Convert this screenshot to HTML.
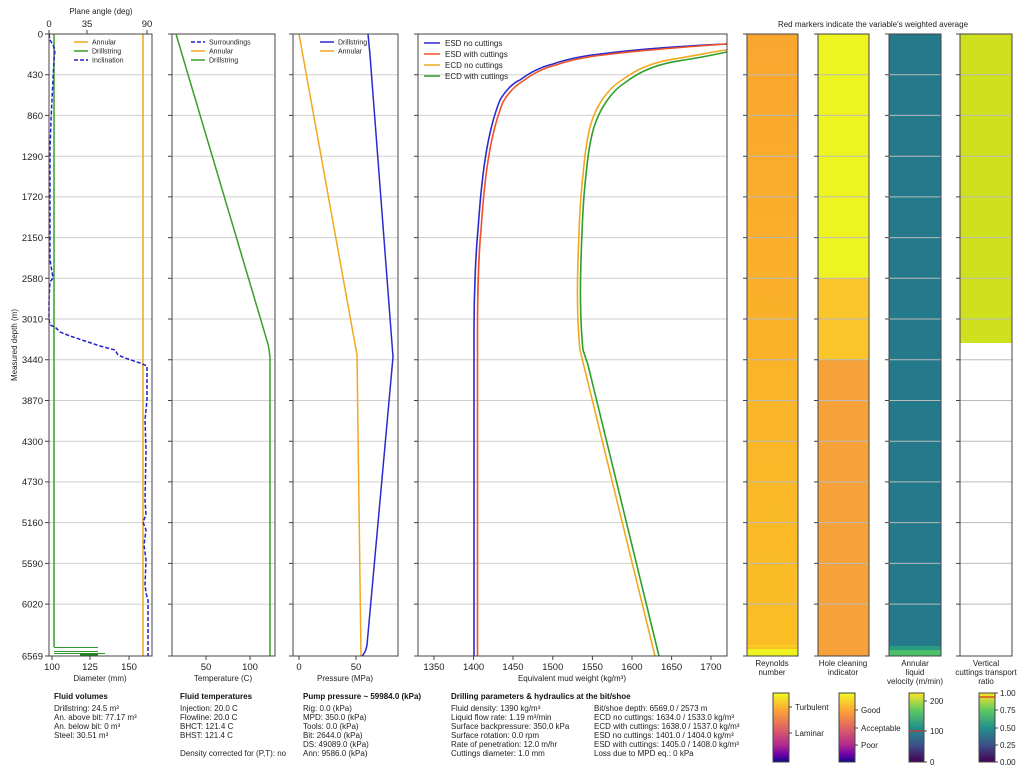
<!DOCTYPE html>
<html><head><meta charset="utf-8"><style>
html,body{margin:0;padding:0;background:#fff;}
svg{display:block;font-family:"Liberation Sans",sans-serif;}
.t{font-size:9.5px;fill:#222;}
.s{font-size:8px;fill:#222;}
.b{font-size:8px;font-weight:bold;fill:#111;}
</style></head><body>
<svg width="1024" height="768" viewBox="0 0 1024 768" xmlns="http://www.w3.org/2000/svg">
<defs>
<linearGradient id="re" x1="0" y1="0" x2="0" y2="1"><stop offset="0" stop-color="#f9a62e"/><stop offset="1" stop-color="#fbbf24"/></linearGradient>
<linearGradient id="plasma" x1="0" y1="0" x2="0" y2="1"><stop offset="0" stop-color="#f0f921"/><stop offset="0.25" stop-color="#fca636"/><stop offset="0.5" stop-color="#e16462"/><stop offset="0.75" stop-color="#b12a90"/><stop offset="0.9" stop-color="#6a00a8"/><stop offset="1" stop-color="#0d0887"/></linearGradient>
<linearGradient id="viridis" x1="0" y1="0" x2="0" y2="1"><stop offset="0" stop-color="#fde725"/><stop offset="0.25" stop-color="#5ec962"/><stop offset="0.5" stop-color="#21918c"/><stop offset="0.75" stop-color="#3b528b"/><stop offset="1" stop-color="#440154"/></linearGradient>
</defs>

<!-- gridlines -->
<g stroke="#cfcfcf" stroke-width="1">
<path d="M49 74.7H152M49 115.4H152M49 156.2H152M49 196.9H152M49 237.6H152M49 278.3H152M49 319H152M49 359.8H152M49 400.5H152M49 441.2H152M49 481.9H152M49 522.6H152M49 563.4H152M49 604.1H152"/>
<path d="M172 74.7H275M172 115.4H275M172 156.2H275M172 196.9H275M172 237.6H275M172 278.3H275M172 319H275M172 359.8H275M172 400.5H275M172 441.2H275M172 481.9H275M172 522.6H275M172 563.4H275M172 604.1H275"/>
<path d="M293 74.7H398M293 115.4H398M293 156.2H398M293 196.9H398M293 237.6H398M293 278.3H398M293 319H398M293 359.8H398M293 400.5H398M293 441.2H398M293 481.9H398M293 522.6H398M293 563.4H398M293 604.1H398"/>
<path d="M418 74.7H727M418 115.4H727M418 156.2H727M418 196.9H727M418 237.6H727M418 278.3H727M418 319H727M418 359.8H727M418 400.5H727M418 441.2H727M418 481.9H727M418 522.6H727M418 563.4H727M418 604.1H727"/>
</g>

<!-- heatmaps -->
<rect x="747" y="34" width="51" height="622" fill="url(#re)"/>
<rect x="747" y="649" width="51" height="7" fill="#eef21f"/>
<rect x="747" y="645" width="51" height="2" fill="#fcce25"/>
<rect x="818" y="34" width="51" height="244" fill="#edf420"/>
<rect x="818" y="278" width="51" height="82" fill="#fbc62b"/>
<rect x="818" y="360" width="51" height="296" fill="#f7a13a"/>
<rect x="889" y="34" width="52" height="622" fill="#24798a"/>
<rect x="889" y="646" width="52" height="4" fill="#2a9a82"/>
<rect x="889" y="650" width="52" height="6" fill="#4cbf6a"/>
<rect x="960" y="34" width="52" height="309" fill="#cfe01f"/>
<g stroke="#bbbbbb" stroke-width="1">
<path d="M747 74.7H798M747 115.4H798M747 156.2H798M747 196.9H798M747 237.6H798M747 278.3H798M747 319H798M747 359.8H798M747 400.5H798M747 441.2H798M747 481.9H798M747 522.6H798M747 563.4H798M747 604.1H798"/>
<path d="M818 74.7H869M818 115.4H869M818 156.2H869M818 196.9H869M818 237.6H869M818 278.3H869M818 319H869M818 359.8H869M818 400.5H869M818 441.2H869M818 481.9H869M818 522.6H869M818 563.4H869M818 604.1H869"/>
<path d="M889 74.7H941M889 115.4H941M889 156.2H941M889 196.9H941M889 237.6H941M889 278.3H941M889 319H941M889 359.8H941M889 400.5H941M889 441.2H941M889 481.9H941M889 522.6H941M889 563.4H941M889 604.1H941"/>
<path d="M960 74.7H1012M960 115.4H1012M960 156.2H1012M960 196.9H1012M960 237.6H1012M960 278.3H1012M960 319H1012M960 359.8H1012M960 400.5H1012M960 441.2H1012M960 481.9H1012M960 522.6H1012M960 563.4H1012M960 604.1H1012"/>
</g>

<!-- panel 1 -->
<g fill="none" stroke-width="1.5">
<path d="M143 34V656" stroke="#f0a91e"/>
<path d="M54 34V647" stroke="#3a9e2a"/>
<path d="M54 647.5H98M54 651.5H98M54 653.5H105" stroke="#2e9a2e" stroke-width="1"/>
<rect x="80" y="653" width="18" height="3" fill="#1f8a1f" stroke="none"/>
<path d="M49 34L50 40L53 45L55 50L54 60L53 80L52 100L51 120L50 150L50 200L50 260L53 278L50 282L49 300L49 319L50 325L55 327L60 332L70 336L85 341L100 346L115 350L118 355L125 358L140 363L147 366L147 400L145 420L146 450L145 500L146 515L143 522L146 530L144 545L146 560L145 585L146 593L148 600L148 656" stroke="#2222cc" stroke-dasharray="4,2"/>
</g>
<!-- panel 2 -->
<path d="M176 34L268 344Q270 354 270 360L270 656" fill="none" stroke="#3a9e2a" stroke-width="1.5"/>
<!-- panel 3 -->
<path d="M299 34L357 355L361 656" fill="none" stroke="#f0a91e" stroke-width="1.5"/>
<path d="M368 34L370 55L393 357L367 645Q366 652 362 656" fill="none" stroke="#2a2ad0" stroke-width="1.5"/>
<!-- panel 4 -->
<g fill="none" stroke-width="1.6">
<path d="M474 656L474 330C474 290 476 250 478 230C482 170 488 130 500 100C507 88 515 82 520 80C533 70 545 66 553 64C570 58 590 55 600 54C640 49 680 46 727 44" stroke="#2a2ad0"/>
<path d="M477.5 656L477.5 330C477.5 290 479 250 481 230C485 170 491 132 503 102C510 90 518 84 523 81C536 71 548 67 556 65C573 59 593 56 603 55C643 50 683 47 727 44" stroke="#f25022"/>
<path d="M655 656L580 350C577 320 577 290 578 260C579 230 580 200 583 175C587 130 592 115 602 100C610 88 617 83 622 80C630 74 636 71 640 69C655 62 668 60 680 58C700 55 715 51 727 50" stroke="#f0a91e"/>
<path d="M659 656L588 365L583 350C580 320 580 290 581 260C582 230 583 200 586 175C590 132 596 117 606 102C614 90 621 85 626 82C634 76 640 73 644 71C659 64 672 62 684 60C704 57 717 54 727 52" stroke="#2ca02c"/>
</g>

<!-- frames -->
<g fill="none" stroke="#444" stroke-width="1">
<rect x="49" y="34" width="103" height="622"/>
<rect x="172" y="34" width="103" height="622"/>
<rect x="293" y="34" width="105" height="622"/>
<rect x="418" y="34" width="309" height="622"/>
<rect x="747" y="34" width="51" height="622"/>
<rect x="818" y="34" width="51" height="622"/>
<rect x="889" y="34" width="52" height="622"/>
<rect x="960" y="34" width="52" height="622"/>
</g>
<!-- y ticks -->
<g stroke="#444">
<path d="M45 34H49M45 74.7H49M45 115.4H49M45 156.2H49M45 196.9H49M45 237.6H49M45 278.3H49M45 319H49M45 359.8H49M45 400.5H49M45 441.2H49M45 481.9H49M45 522.6H49M45 563.4H49M45 604.1H49M45 656H49"/>
<path d="M168 34H172M168 74.7H172M168 115.4H172M168 156.2H172M168 196.9H172M168 237.6H172M168 278.3H172M168 319H172M168 359.8H172M168 400.5H172M168 441.2H172M168 481.9H172M168 522.6H172M168 563.4H172M168 604.1H172M168 656H172"/>
<path d="M289 34H293M289 74.7H293M289 115.4H293M289 156.2H293M289 196.9H293M289 237.6H293M289 278.3H293M289 319H293M289 359.8H293M289 400.5H293M289 441.2H293M289 481.9H293M289 522.6H293M289 563.4H293M289 604.1H293M289 656H293"/>
<path d="M414 34H418M414 74.7H418M414 115.4H418M414 156.2H418M414 196.9H418M414 237.6H418M414 278.3H418M414 319H418M414 359.8H418M414 400.5H418M414 441.2H418M414 481.9H418M414 522.6H418M414 563.4H418M414 604.1H418M414 656H418"/>
<path d="M743 34H747M743 74.7H747M743 115.4H747M743 196.9H747M743 278.3H747M743 359.8H747M743 441.2H747M743 522.6H747M743 604.1H747M743 656H747M743 156.2H747M743 237.6H747M743 319H747M743 400.5H747M743 481.9H747M743 563.4H747"/>
<path d="M814 34H818M814 74.7H818M814 115.4H818M814 156.2H818M814 196.9H818M814 237.6H818M814 278.3H818M814 319H818M814 359.8H818M814 400.5H818M814 441.2H818M814 481.9H818M814 522.6H818M814 563.4H818M814 604.1H818M814 656H818"/>
<path d="M885 34H889M885 74.7H889M885 115.4H889M885 156.2H889M885 196.9H889M885 237.6H889M885 278.3H889M885 319H889M885 359.8H889M885 400.5H889M885 441.2H889M885 481.9H889M885 522.6H889M885 563.4H889M885 604.1H889M885 656H889"/>
<path d="M956 34H960M956 74.7H960M956 115.4H960M956 156.2H960M956 196.9H960M956 237.6H960M956 278.3H960M956 319H960M956 359.8H960M956 400.5H960M956 441.2H960M956 481.9H960M956 522.6H960M956 563.4H960M956 604.1H960M956 656H960"/>
<!-- x ticks -->
<path d="M52 656V660M90 656V660M129 656V660M206 656V660M250 656V660M299 656V660M356 656V660M434 656V660M473.6 656V660M513 656V660M552.8 656V660M592.4 656V660M632 656V660M671.6 656V660M711 656V660"/>
<path d="M49 34V30M87 34V30M147 34V30"/>
</g>
<g class="t" text-anchor="end">
<text x="43" y="37.5">0</text><text x="43" y="78">430</text><text x="43" y="119">860</text><text x="43" y="160">1290</text><text x="43" y="200">1720</text><text x="43" y="241">2150</text><text x="43" y="282">2580</text><text x="43" y="322.5">3010</text><text x="43" y="363">3440</text><text x="43" y="404">3870</text><text x="43" y="445">4300</text><text x="43" y="485">4730</text><text x="43" y="526">5160</text><text x="43" y="567">5590</text><text x="43" y="607.5">6020</text><text x="43" y="659.5">6569</text>
</g>
<text class="s" transform="translate(17,345) rotate(-90)" text-anchor="middle">Measured depth (m)</text>
<g class="t" text-anchor="middle">
<text x="49" y="27">0</text><text x="87" y="27">35</text><text x="147" y="27">90</text>
<text x="52" y="670">100</text><text x="90" y="670">125</text><text x="129" y="670">150</text>
<text x="206" y="670">50</text><text x="250" y="670">100</text>
<text x="299" y="670">0</text><text x="356" y="670">50</text>
<text x="434" y="670">1350</text><text x="473.6" y="670">1400</text><text x="513" y="670">1450</text><text x="552.8" y="670">1500</text><text x="592.4" y="670">1550</text><text x="632" y="670">1600</text><text x="671.6" y="670">1650</text><text x="711" y="670">1700</text>
</g>
<g class="s" text-anchor="middle">
<text x="101" y="14">Plane angle (deg)</text>
<text x="100" y="681">Diameter (mm)</text>
<text x="223" y="681">Temperature (C)</text>
<text x="345" y="681">Pressure (MPa)</text>
<text x="572" y="681">Equivalent mud weight (kg/m³)</text>
<text x="873" y="27">Red markers indicate the variable's weighted average</text>
<text x="772" y="666">Reynolds</text><text x="772" y="675">number</text>
<text x="843" y="666">Hole cleaning</text><text x="843" y="675">indicator</text>
<text x="915" y="666">Annular</text><text x="915" y="675">liquid</text><text x="915" y="684">velocity (m/min)</text>
<text x="986" y="666">Vertical</text><text x="986" y="675">cuttings transport</text><text x="986" y="684">ratio</text>
</g>

<!-- legends -->
<g stroke-width="1.5" fill="none">
<path d="M74 42H88" stroke="#f0a91e"/><path d="M74 51H88" stroke="#3a9e2a"/><path d="M74 60H88" stroke="#2222cc" stroke-dasharray="4,2"/>
<path d="M191 42H205" stroke="#2222cc" stroke-dasharray="4,2"/><path d="M191 51H205" stroke="#f0a91e"/><path d="M191 60H205" stroke="#3a9e2a"/>
<path d="M320 42H334" stroke="#2a2ad0"/><path d="M320 51H334" stroke="#f0a91e"/>
<path d="M424 43H440" stroke="#2a2ad0"/><path d="M424 54H440" stroke="#f25022"/><path d="M424 65H440" stroke="#f0a91e"/><path d="M424 76H440" stroke="#2ca02c"/>
</g>
<g font-size="7px" fill="#222">
<text x="92" y="44.5">Annular</text><text x="92" y="53.5">Drillstring</text><text x="92" y="62.5">Inclination</text>
<text x="209" y="44.5">Surroundings</text><text x="209" y="53.5">Annular</text><text x="209" y="62.5">Drillstring</text>
<text x="338" y="44.5">Drillstring</text><text x="338" y="53.5">Annular</text>
</g>
<g font-size="8px" fill="#222">
<text x="445" y="46">ESD no cuttings</text><text x="445" y="57">ESD with cuttings</text><text x="445" y="68">ECD no cuttings</text><text x="445" y="79">ECD with cuttings</text>
</g>

<!-- bottom text -->
<text class="b" x="54" y="699">Fluid volumes</text>
<g class="s"><text x="54" y="711">Drillstring: 24.5 m³</text><text x="54" y="720">An. above bit: 77.17 m³</text><text x="54" y="729">An. below bit: 0 m³</text><text x="54" y="738">Steel: 30.51 m³</text></g>
<text class="b" x="180" y="699">Fluid temperatures</text>
<g class="s"><text x="180" y="711">Injection: 20.0 C</text><text x="180" y="720">Flowline: 20.0 C</text><text x="180" y="729">BHCT: 121.4 C</text><text x="180" y="738">BHST: 121.4 C</text><text x="180" y="756">Density corrected for (P,T): no</text></g>
<text class="b" x="303" y="699">Pump pressure ~ 59984.0 (kPa)</text>
<g class="s"><text x="303" y="711">Rig: 0.0 (kPa)</text><text x="303" y="720">MPD: 350.0 (kPa)</text><text x="303" y="729">Tools: 0.0 (kPa)</text><text x="303" y="738">Bit: 2644.0 (kPa)</text><text x="303" y="747">DS: 49089.0 (kPa)</text><text x="303" y="756">Ann: 9586.0 (kPa)</text></g>
<text class="b" x="451" y="699">Drilling parameters &amp; hydraulics at the bit/shoe</text>
<g class="s"><text x="451" y="711">Fluid density: 1390 kg/m³</text><text x="451" y="720">Liquid flow rate: 1.19 m³/min</text><text x="451" y="729">Surface backpressure: 350.0 kPa</text><text x="451" y="738">Surface rotation: 0.0 rpm</text><text x="451" y="747">Rate of penetration: 12.0 m/hr</text><text x="451" y="756">Cuttings diameter: 1.0 mm</text>
<text x="594" y="711">Bit/shoe depth: 6569.0 / 2573 m</text><text x="594" y="720">ECD no cuttings: 1634.0 / 1533.0 kg/m³</text><text x="594" y="729">ECD with cuttings: 1638.0 / 1537.0 kg/m³</text><text x="594" y="738">ESD no cuttings: 1401.0 / 1404.0 kg/m³</text><text x="594" y="747">ESD with cuttings: 1405.0 / 1408.0 kg/m³</text><text x="594" y="756">Loss due to MPD eq.: 0 kPa</text></g>

<!-- colorbars -->
<g stroke="#444" stroke-width="1">
<rect x="773" y="693" width="16" height="69" fill="url(#plasma)"/>
<rect x="839" y="693" width="16" height="69" fill="url(#plasma)"/>
<rect x="909" y="693" width="15" height="69" fill="url(#viridis)"/>
<rect x="979" y="693" width="16" height="69" fill="url(#viridis)"/>
<path d="M789 707H792M789 733H792M855 710H858M855 728H858M855 745H858M924 701H927M924 731H927M924 762H927M995 693H998M995 710H998M995 728H998M995 745H998M995 762H998"/>
</g>
<path d="M909 731H924M979 697H995" stroke="#e03020" stroke-width="1.2"/>
<g class="s">
<text x="795" y="710">Turbulent</text><text x="795" y="736">Laminar</text>
<text x="861" y="713">Good</text><text x="861" y="731">Acceptable</text><text x="861" y="748">Poor</text>
<text x="930" y="704">200</text><text x="930" y="734">100</text><text x="930" y="765">0</text>
<text x="1000" y="696">1.00</text><text x="1000" y="713">0.75</text><text x="1000" y="731">0.50</text><text x="1000" y="748">0.25</text><text x="1000" y="765">0.00</text>
</g>
</svg>
</body></html>
